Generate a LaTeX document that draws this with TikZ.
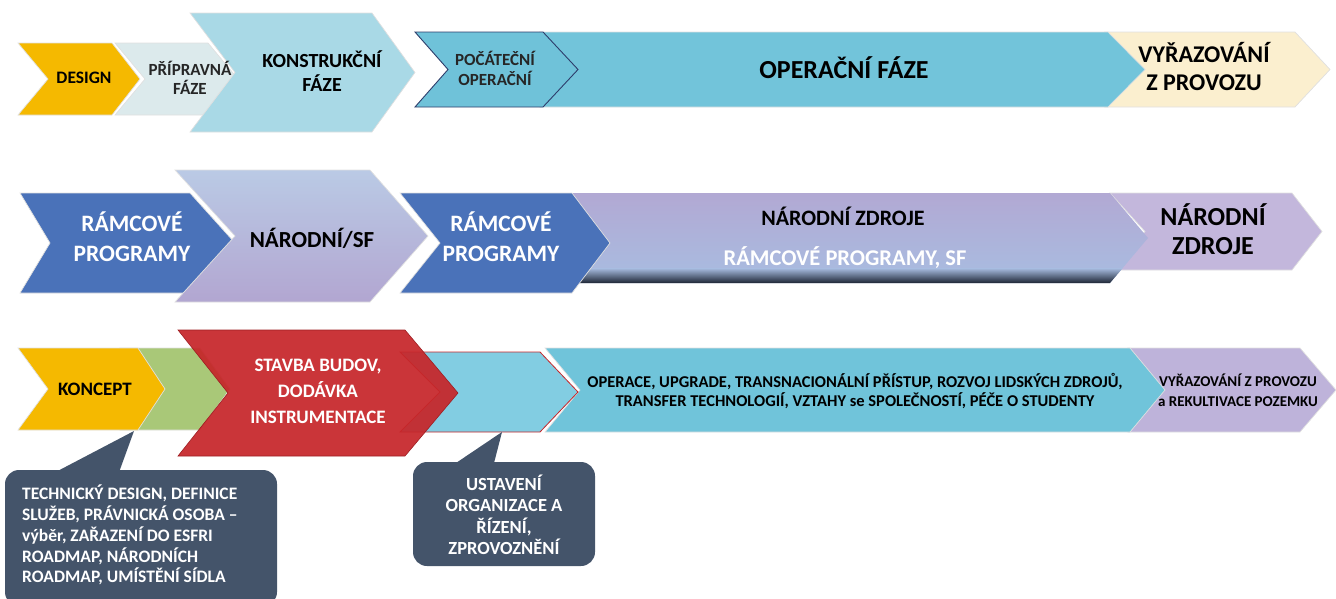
\documentclass[tikz,border=0pt]{standalone}
\usepackage{fontspec}
\setmainfont{Carlito}
\usetikzlibrary{shadings}
\definecolor{cDesign}{HTML}{F5B900}
\definecolor{cPrip}{HTML}{DCEAEC}
\definecolor{cKonstr}{HTML}{A9D9E6}
\definecolor{cPocat}{HTML}{6FC2D9}
\definecolor{cPocatLine}{HTML}{2E3D6B}
\definecolor{cOper}{HTML}{72C4DA}
\definecolor{cVyraz}{HTML}{FBEFCF}
\definecolor{cRam}{HTML}{4A72B9}
\definecolor{cSFtop}{HTML}{BACAE5}
\definecolor{cSFbot}{HTML}{B2A6D1}
\definecolor{cNZtop}{HTML}{B2A8D3}
\definecolor{cNZbot}{HTML}{A8BDE1}
\definecolor{cNZsmall}{HTML}{C3B7DC}
\definecolor{cGreen}{HTML}{A9C878}
\definecolor{cRed}{HTML}{C6262A}
\definecolor{cLblue}{HTML}{82CDE2}
\definecolor{cCyan}{HTML}{70C4DA}
\definecolor{cPurple}{HTML}{BEB3DA}
\definecolor{cCall}{HTML}{44546A}
\definecolor{cDark}{HTML}{141C2A}
\newcommand{\chv}[7][]{%
  \path[#1] (#2,#3) -- ({#4-#7},#3) -- (#4,{(#3+#5)/2}) -- ({#4-#7},#5) -- (#2,#5) -- ({#2+#6},{(#3+#5)/2}) -- cycle;}
\newcommand{\fsz}[2]{\fontsize{#1}{#2}\selectfont}
\tikzset{
  chev/.style={draw=black!12, line width=0.7pt},
  lbl/.style={font=\bfseries, align=center, inner sep=0pt, text=black},
  wlbl/.style={lbl, text=white},
  callout/.style={fill=cCall},
}
\begin{document}
\begin{tikzpicture}[x=1pt,y=-1pt]
\useasboundingbox (0,0) rectangle (1336,598);
% ---------------- Row 1 ----------------
\chv[chev, fill=cPrip]{115}{43}{238}{115}{30}{30}
\chv[chev, fill=cDesign]{18}{43}{140}{115}{30}{28}
\chv[chev, fill=cKonstr]{190}{13}{415}{132}{45}{43}
\chv[chev, fill=cVyraz]{1105}{32}{1330}{107}{35}{35}
\chv[chev, fill=cOper]{540}{32}{1145}{107}{35}{37}
\chv[fill=cPocat, draw=cPocatLine, line width=0.9pt]{415}{32}{578}{107}{33}{35}
\node[lbl, font=\bfseries\fsz{17.5}{20}] (design) at (84,78) {DESIGN};
\node[lbl, font=\bfseries\fsz{17}{19}, text=black!85] (prip) at (190,78) {PŘÍPRAVNÁ\\FÁZE};
\node[lbl, font=\bfseries\fsz{20}{24}] (konstr) at (322,71) {KONSTRUKČNÍ\\FÁZE};
\node[lbl, font=\bfseries\fsz{17}{20}, text=black!85] (pocat) at (495,68) {POČÁTEČNÍ\\OPERAČNÍ};
\node[lbl, font=\bfseries\fsz{26}{28}] (oper) at (844,68) {OPERAČNÍ FÁZE};
\node[lbl, font=\bfseries\fsz{24}{28}] (vyraz) at (1204,67) {VYŘAZOVÁNÍ\\Z PROVOZU};
% ---------------- Row 2 ----------------
\chv[chev, fill=cNZsmall]{1110}{193}{1322}{270}{35}{30}
\begin{scope}
  \chv[clip]{570}{193}{1148}{283}{35}{38}
  \shade[top color=cNZtop, bottom color=cNZbot] (560,190) rectangle (1150,284);
  \shade[top color=cNZbot, bottom color=cDark] (560,268) rectangle (1150,284);
\end{scope}
\chv[chev, fill=cRam]{400}{193}{610}{293}{40}{38}
\chv[chev, fill=cRam]{20}{193}{235}{293}{30}{45}
\chv[chev, top color=cSFtop, bottom color=cSFbot]{175}{170}{428}{302}{60}{58}
\node[wlbl, font=\bfseries\fsz{23.5}{30}] (ram1) at (132,237) {RÁMCOVÉ\\PROGRAMY};
\node[lbl, font=\bfseries\fsz{23}{26}] (narsf) at (312,238) {NÁRODNÍ/SF};
\node[wlbl, font=\bfseries\fsz{23.5}{30}] (ram2) at (501,237) {RÁMCOVÉ\\PROGRAMY};
\node[lbl, font=\bfseries\fsz{22}{26}] (nz1) at (843,216) {NÁRODNÍ ZDROJE};
\node[wlbl, font=\bfseries\fsz{22.5}{26}] (rpsf) at (845,258) {RÁMCOVÉ PROGRAMY, SF};
\node[lbl, font=\bfseries\fsz{26}{29}] (nz2) at (1213,229) {NÁRODNÍ\\ZDROJE};
% ---------------- Row 3 ----------------
\chv[chev, fill=cPurple]{1128}{348}{1336}{432}{35}{36}
\chv[chev, fill=cCyan]{545}{348}{1165}{432}{35}{35}
\chv[fill=cLblue, draw=cRed, line width=0.8pt]{400}{352}{578}{432}{40}{38}
\chv[chev, fill=cGreen]{120}{348}{230}{430}{30}{30}
\chv[chev, fill=cDesign]{18}{348}{165}{430}{30}{27}
\chv[draw=cRed!80!black, fill=cRed, fill opacity=0.93, line width=0.6pt]{178}{330}{458}{456}{50}{53}
\node[lbl, font=\bfseries\fsz{19}{22}] (koncept) at (95,389) {KONCEPT};
\node[wlbl, font=\bfseries\fsz{19}{26}] (stavba) at (318,391) {STAVBA BUDOV,\\DODÁVKA\\INSTRUMENTACE};
\node[lbl, font=\bfseries\fsz{16.5}{19.5}] (operace) at (855,391) {OPERACE, UPGRADE, TRANSNACIONÁLNÍ PŘÍSTUP, ROZVOJ LIDSKÝCH ZDROJŮ,\\TRANSFER TECHNOLOGIÍ, VZTAHY se SPOLEČNOSTÍ, PÉČE O STUDENTY};
\node[lbl, font=\bfseries\fsz{15}{20}] (rekult) at (1238,390) {VYŘAZOVÁNÍ Z PROVOZU\\a REKULTIVACE POZEMKU};
% ---------------- Callouts ----------------
\fill[callout, rounded corners=14] (5,470) rectangle (277,606);
\coordinate (tip1) at (134,431);
\fill[callout] (50,475) -- (tip1) -- (118,475) -- cycle;
\node[wlbl, font=\bfseries\fsz{17.5}{20.7}, align=left, anchor=north west] (call1) at (22,485)
  {TECHNICKÝ DESIGN, DEFINICE\\SLUŽEB, PRÁVNICKÁ OSOBA –\\výběr, ZAŘAZENÍ DO ESFRI\\ROADMAP, NÁRODNÍCH\\ROADMAP, UMÍSTĚNÍ SÍDLA};
\fill[callout, rounded corners=14] (413,462) rectangle (595,566);
\coordinate (tip2) at (502,432);
\fill[callout] (450,467) -- (tip2) -- (493,467) -- cycle;
\node[wlbl, font=\bfseries\fsz{18.5}{21.5}] (call2) at (504,515)
  {USTAVENÍ\\ORGANIZACE A\\ŘÍZENÍ,\\ZPROVOZNĚNÍ};
\end{tikzpicture}
\end{document}
